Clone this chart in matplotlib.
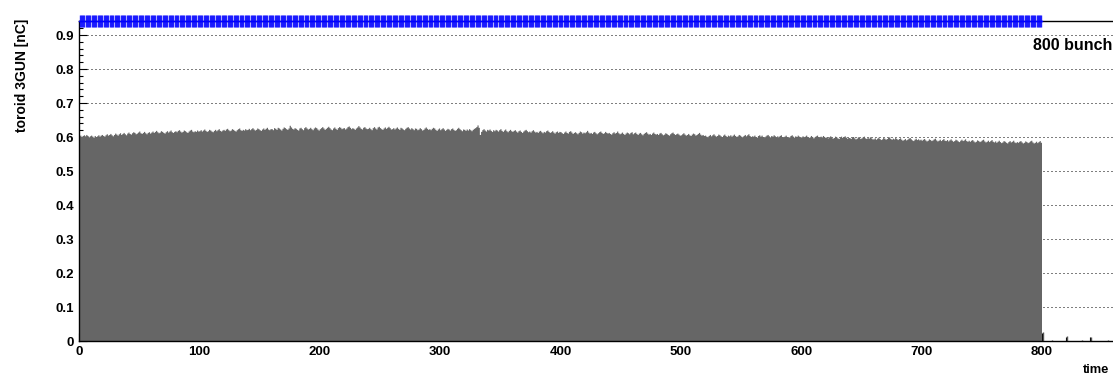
"""Toroid 3GUN charge per bunch for an 800-bunch train (ROOT-style histogram)."""

import matplotlib
matplotlib.use("Agg")
import matplotlib.pyplot as plt
import numpy as np

plt.rcParams["font.family"] = ["Liberation Sans", "DejaVu Sans"]
plt.rcParams["font.weight"] = "bold"

# charge per bunch, in pC (bins 0..799)
charge_pC = [
    601, 604, 600, 603, 605, 602, 606, 603, 599, 602, 604, 601, 598, 603, 600, 602, 605, 601, 604, 606,
    603, 601, 605, 608, 604, 606, 609, 605, 602, 606, 610, 607, 604, 608, 611, 606, 609, 612, 608, 605,
    610, 613, 609, 607, 611, 614, 612, 608, 610, 613, 616, 611, 609, 612, 615, 611, 608, 612, 614, 610,
    613, 616, 612, 615, 618, 614, 611, 613, 617, 615, 612, 610, 614, 617, 613, 616, 619, 614, 612, 615,
    617, 614, 618, 620, 616, 613, 615, 619, 617, 614, 612, 616, 619, 621, 616, 614, 617, 615, 619, 616,
    617, 620, 616, 619, 622, 618, 615, 617, 621, 619, 616, 614, 618, 621, 617, 620, 623, 618, 616, 619,
    621, 618, 622, 624, 620, 617, 619, 623, 621, 618, 616, 620, 623, 625, 620, 618, 621, 619, 623, 620,
    621, 624, 620, 623, 626, 622, 619, 621, 625, 623, 620, 618, 622, 625, 621, 624, 627, 622, 620, 623,
    623, 620, 626, 624, 621, 627, 625, 622, 619, 624, 628, 626, 623, 621, 625, 633, 628, 624, 622, 626,
    624, 621, 619, 625, 627, 623, 620, 626, 629, 625, 622, 624, 627, 623, 620, 625, 628, 626, 622, 619,
    623, 626, 629, 625, 621, 624, 627, 630, 626, 622, 620, 625, 628, 624, 621, 626, 629, 627, 623, 625,
    626, 622, 625, 629, 631, 627, 623, 626, 624, 621, 625, 628, 632, 628, 624, 622, 627, 629, 625, 623,
    624, 627, 623, 620, 626, 629, 625, 622, 628, 630, 626, 623, 621, 625, 628, 624, 627, 630, 626, 622,
    623, 626, 622, 625, 628, 624, 621, 627, 625, 622, 620, 624, 627, 629, 625, 622, 626, 623, 620, 625,
    624, 620, 622, 626, 623, 619, 621, 625, 628, 624, 621, 623, 620, 624, 627, 625, 621, 618, 622, 625,
    620, 623, 626, 622, 618, 621, 624, 622, 619, 623, 625, 621, 618, 620, 624, 627, 623, 620, 617, 622,
    621, 618, 622, 619, 623, 620, 617, 621, 624, 626, 629, 634, 627, 606, 615, 620, 623, 619, 616, 621,
    619, 622, 618, 615, 620, 617, 621, 619, 616, 620, 623, 618, 615, 619, 622, 617, 614, 618, 621, 617,
    615, 618, 620, 616, 613, 617, 619, 615, 612, 616, 619, 621, 617, 614, 616, 613, 617, 620, 616, 613,
    615, 612, 616, 618, 614, 611, 615, 613, 617, 619, 615, 612, 614, 617, 613, 610, 614, 616, 612, 615,
    614, 611, 609, 613, 616, 612, 610, 615, 617, 613, 609, 612, 614, 611, 608, 612, 616, 614, 610, 613,
    611, 614, 618, 613, 610, 612, 609, 613, 615, 611, 608, 611, 614, 616, 612, 609, 611, 615, 612, 610,
    612, 609, 607, 611, 614, 610, 612, 616, 611, 608, 610, 613, 609, 606, 610, 613, 611, 608, 612, 614,
    608, 611, 613, 609, 606, 610, 612, 608, 605, 609, 612, 614, 610, 607, 609, 606, 610, 613, 609, 607,
    609, 606, 610, 612, 608, 605, 607, 611, 609, 606, 604, 608, 611, 613, 609, 606, 608, 610, 607, 604,
    605, 608, 611, 607, 604, 606, 609, 605, 603, 607, 610, 608, 604, 606, 609, 612, 607, 604, 606, 603,
    604, 601, 597, 603, 606, 602, 605, 608, 604, 601, 603, 607, 605, 602, 600, 604, 607, 603, 600, 604,
    602, 605, 601, 604, 607, 603, 600, 602, 606, 604, 601, 599, 603, 606, 602, 605, 608, 603, 600, 602,
    601, 604, 600, 598, 603, 605, 601, 604, 600, 597, 601, 604, 606, 602, 599, 603, 601, 605, 602, 599,
    602, 599, 603, 605, 600, 598, 601, 604, 600, 597, 599, 603, 605, 601, 598, 602, 600, 604, 601, 598,
    599, 602, 598, 601, 604, 600, 597, 599, 603, 600, 596, 599, 602, 604, 600, 597, 601, 599, 603, 600,
    597, 600, 596, 599, 602, 598, 595, 597, 601, 599, 596, 594, 598, 601, 597, 599, 602, 598, 595, 597,
    597, 594, 598, 600, 596, 593, 595, 599, 597, 594, 596, 599, 601, 596, 594, 597, 595, 599, 596, 593,
    593, 596, 592, 595, 598, 594, 591, 593, 597, 595, 592, 594, 597, 599, 594, 592, 595, 593, 597, 594,
    591, 594, 596, 592, 589, 591, 594, 590, 592, 595, 597, 593, 590, 588, 592, 595, 591, 593, 590, 592,
    589, 592, 594, 590, 587, 589, 593, 591, 588, 590, 593, 595, 590, 587, 589, 592, 588, 591, 594, 589,
    588, 591, 587, 590, 593, 589, 586, 588, 592, 590, 587, 585, 589, 592, 588, 590, 593, 588, 586, 589,
    586, 589, 591, 587, 584, 586, 590, 588, 585, 587, 590, 592, 587, 584, 586, 589, 585, 588, 591, 586,
    584, 587, 583, 586, 589, 585, 582, 584, 588, 586, 583, 581, 585, 588, 584, 586, 589, 584, 582, 585,
    583, 586, 588, 584, 581, 583, 587, 585, 582, 584, 587, 589, 584, 581, 583, 586, 582, 585, 588, 583,
]

# small pickup after the train
tail_bins = [800, 808, 820, 833, 840, 854]
tail_pC = [27, 3, 15, 3, 12, 4]

y_ticks = [0, 0.1, 0.2, 0.3, 0.4, 0.5, 0.6, 0.7, 0.8, 0.9]
y_tick_labels = ["0", "0.1", "0.2", "0.3", "0.4", "0.5", "0.6", "0.7", "0.8", "0.9"]
x_ticks = [0, 100, 200, 300, 400, 500, 600, 700, 800]

W, H = 1113, 374
fig = plt.figure(figsize=(W / 100, H / 100), dpi=100)

xmax, ymax = 870, 0.94
px_per_bin = (1042 - 79) / 800
ax = fig.add_axes([79 / W, 33 / H, xmax * px_per_bin / W, ymax * 340 / H])

vals = np.array(charge_pC) / 1000.0
edges = np.arange(len(vals) + 1)
ax.stairs(vals, edges, fill=True, color="#666666", lw=0, zorder=2)
ax.vlines(np.array(tail_bins) + 0.5, 0, np.array(tail_pC) / 1000.0,
          color="#555555", lw=1, zorder=2)

# bunch pattern markers along the top
centers = edges[:-1] + 0.5
ax.plot(centers, np.full(len(centers), ymax), "|", color="#0000ff",
        ms=8.6, mew=1.0, clip_on=False, zorder=5, alpha=0.85)
ax.plot([0, len(vals)], [ymax, ymax], color="#0000ff", lw=1,
        clip_on=False, zorder=5)

ax.set_xlim(0, xmax)
ax.set_ylim(0, ymax)
ax.set_axisbelow(True)
ax.yaxis.grid(True, which="major", color="black", lw=0.72,
              linestyle=(0, (1, 3)))

ax.set_yticks(y_ticks)
ax.set_yticklabels(y_tick_labels)
ax.set_yticks(np.arange(0, ymax, 0.02), minor=True)
ax.set_xticks(x_ticks)
ax.set_xticks(np.arange(0, xmax, 20), minor=True)
ax.tick_params(which="both", direction="in", labelsize=9.5, pad=3.6,
               color="black")
ax.tick_params(which="major", length=5.8, width=0.8)
ax.tick_params(which="minor", length=2.9, width=0.8)
for s in ax.spines.values():
    s.set_linewidth(1)

fig.text(22 / W, 1 - 19 / H, "toroid 3GUN [nC]", rotation=90,
         ha="center", va="top", fontsize=10, fontweight="bold")
fig.text(1109 / W, 1 - 373 / H, "time", ha="right", va="baseline",
         fontsize=9.3, fontweight="bold")
fig.text(1033 / W, 1 - 50 / H, "800 bunch", ha="left", va="baseline",
         fontsize=11.5, fontweight="bold")

fig.savefig("out.png", dpi=100)
